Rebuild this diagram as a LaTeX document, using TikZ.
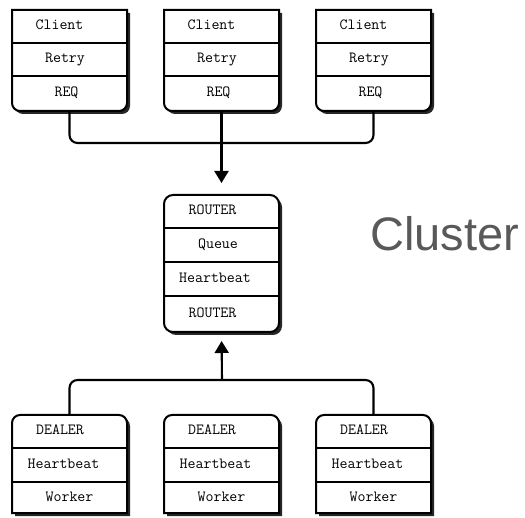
\documentclass[tikz,border=0pt]{standalone}
\usepackage{fontspec}
\newfontfamily\clusterfont{Liberation Sans}
\usetikzlibrary{arrows.meta}
\definecolor{clustergray}{HTML}{595959}
\tikzset{
  boxline/.style={draw=black, line width=2pt, fill=white},
  rowline/.style={draw=black, line width=1.6pt},
  shade/.style={fill=black!85},
  body/.style={inner sep=0pt, outer sep=0pt, minimum width=115pt, draw=none},
  label/.style={font=\ttfamily\fontsize{15.5}{18}\selectfont, inner sep=0pt,
                text height=0.61em, text depth=0pt, anchor=center},
  conn/.style={draw=black, line width=2.1pt, rounded corners=8pt},
  tip/.style={-{Triangle[width=14pt,length=12pt]}},
}
% client stack: square top, rounded bottom, three rows
\newcommand\clientbox[3]{%
  \begin{scope}[shift={(#2,#3)}]
    \fill[shade] (3,53) -- (3,3) -- (118,3) -- (118,53) [rounded corners=8pt] -- (118,104) -- (3,104) -- (3,53);
    \path[boxline] (0,50) -- (0,0) -- (115,0) -- (115,50) [rounded corners=8pt] -- (115,101) -- (0,101) -- (0,50);
    \draw[rowline] (0,33) -- (115,33);
    \draw[rowline] (0,66) -- (115,66);
    \node[body, minimum height=101pt] (#1) at (57.5,50.5) {};
  \end{scope}}
% broker stack: rounded all round, four rows
\newcommand\routerbox[3]{%
  \begin{scope}[shift={(#2,#3)}]
    \fill[shade, rounded corners=9pt] (3,3) rectangle (118,140);
    \path[boxline, rounded corners=9pt] (0,0) rectangle (115,137);
    \draw[rowline] (0,33) -- (115,33);
    \draw[rowline] (0,67) -- (115,67);
    \draw[rowline] (0,101) -- (115,101);
    \node[body, minimum height=137pt] (#1) at (57.5,68.5) {};
  \end{scope}}
% worker stack: rounded top, square bottom, three rows
\newcommand\workerbox[3]{%
  \begin{scope}[shift={(#2,#3)}]
    \fill[shade] (3,53) -- (3,101) -- (118,101) -- (118,53) [rounded corners=8pt] -- (118,3) -- (3,3) -- (3,53);
    \path[boxline] (0,50) -- (0,98) -- (115,98) -- (115,50) [rounded corners=8pt] -- (115,0) -- (0,0) -- (0,50);
    \draw[rowline] (0,33) -- (115,33);
    \draw[rowline] (0,67) -- (115,67);
    \node[body, minimum height=98pt] (#1) at (57.5,49) {};
  \end{scope}}
\begin{document}
\begin{tikzpicture}[x=1pt, y=-1pt]
  \useasboundingbox (0,0) rectangle (525,518);

  % clients
  \clientbox{c1}{12}{10}
  \clientbox{c2}{164}{10}
  \clientbox{c3}{316}{10}
  \foreach \n/\l in {c1/12, c2/164, c3/316} {
    \node[label] (\n-a) at (\l+47.5, 26.5) {Client};
    \node[label] (\n-b) at (\l+53, 59.5) {Retry};
    \node[label] (\n-c) at (\l+54.5, 93) {REQ};
  }

  % broker
  \routerbox{r}{164}{195}
  \node[label] (r-a) at (212.5, 211.5) {ROUTER};
  \node[label] (r-b) at (218, 245) {Queue};
  \node[label] (r-c) at (215, 279) {Heartbeat};
  \node[label] (r-d) at (212.5, 314) {ROUTER};

  % workers
  \workerbox{w1}{12}{415}
  \workerbox{w2}{164}{415}
  \workerbox{w3}{316}{415}
  \foreach \n/\l in {w1/12, w2/164, w3/316} {
    \node[label] (\n-a) at (\l+48, 431.5) {DEALER};
    \node[label] (\n-b) at (\l+51.5, 465) {Heartbeat};
    \node[label] (\n-c) at (\l+57.5, 498) {Worker};
  }

  % cluster caption
  \node[anchor=base west, inner sep=0pt, text=clustergray,
        font=\clusterfont\fontsize{47}{52}\selectfont] (cluster) at (370,251) {Cluster};

  % client side bus
  \coordinate (jt) at (222,143);
  \draw[conn] (c1.south) -- (c1.south |- jt) -- (c3.south |- jt) -- (c3.south);
  \draw[conn, tip, shorten >=12pt] (c2.south) -- (r.north);

  % worker side bus
  \coordinate (jb) at (222,380);
  \draw[conn] (w1.north) -- (w1.north |- jb) -- (w3.north |- jb) -- (w3.north);
  \draw[conn, tip, shorten >=9pt] (jb) -- (r.south);
\end{tikzpicture}
\end{document}
